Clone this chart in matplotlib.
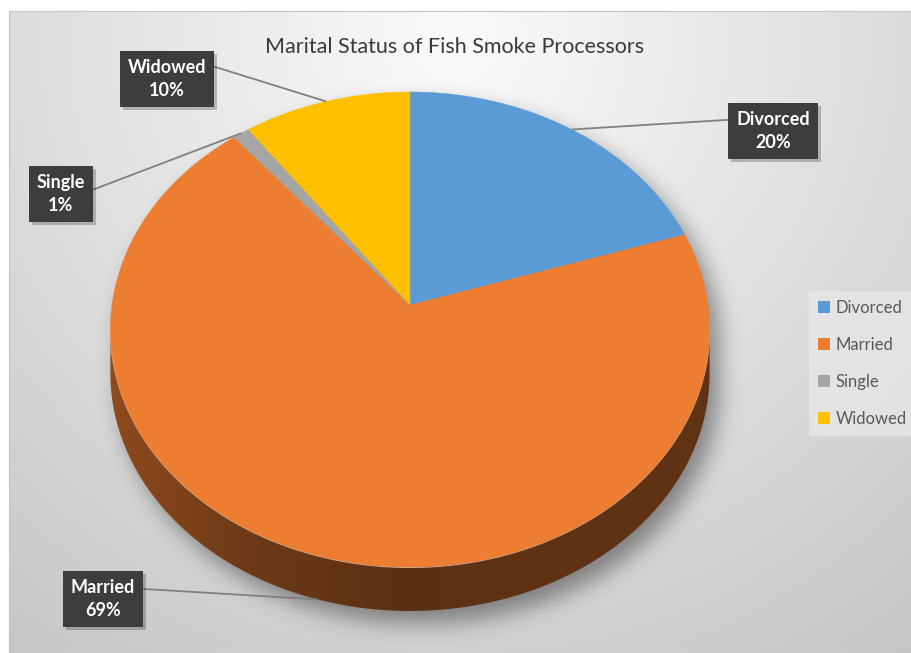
import numpy as np
import matplotlib
matplotlib.use("Agg")
import matplotlib.pyplot as plt
from matplotlib.patches import Polygon, Rectangle, Patch
from matplotlib.path import Path

# ---------------- data ----------------
categories = ["Divorced", "Married", "Single", "Widowed"]
values = [20, 69, 1, 10]
colors = ["#5B9BD5", "#ED7D31", "#A5A5A5", "#FFC000"]
title = "Marital Status of Fish Smoke Processors"

# ---------------- layout / style ----------------
W, H = 912, 653
CX, CY = 410, 305          # apex of the pie (pixels)
A, B, P = 298, 235, 0.103  # perspective parameters of the pie top
DEPTH = 44                 # thickness of the pie
START = 90                 # first slice starts at 12 o'clock, clockwise

label_boxes = {            # centre of each label box (pixels)
    "Divorced": (773, 131),
    "Married": (103, 599),
    "Single": (61, 194),
    "Widowed": (167, 79),
}
FONT = "Lato"

fig = plt.figure(figsize=(W / 100, H / 100), dpi=100)
fig.patch.set_facecolor("white")
ax = fig.add_axes([0, 0, 1, 1])
ax.set_xlim(0, W)
ax.set_ylim(H, 0)
ax.axis("off")

# ---------------- background gradient ----------------
x0, y0 = 9, 11
yy, xx = np.mgrid[y0:H, x0:W]
d = np.hypot(xx - 455, (yy - 40) * 1.0)
g = np.clip(251 - 0.07 * d, 190, 252) / 255.0
bg = np.dstack([g, g, g])
ax.imshow(bg, extent=(x0, W, H, y0), zorder=0, interpolation="bilinear")
ax.add_patch(Rectangle((x0, y0), W - x0, H - y0, fill=False, ec="#c4c4c4", lw=0.8, zorder=0.5))


def proj(theta, drop=0.0):
    t = np.radians(theta)
    u, v = np.cos(t), np.sin(t)
    den = 1 + P * v
    return CX + A * u / den, CY - B * v / den + drop


# front arc (visible side) between leftmost and rightmost rim points
th_all = np.linspace(150, 390, 2401)
xs_all, _ = proj(th_all)
front_lo, front_hi = th_all[np.argmin(xs_all)], th_all[np.argmax(xs_all)]

# ---------------- shadow ----------------
full = np.linspace(0, 360, 721)
rx, ry = proj(full)
front = np.linspace(front_lo, front_hi, 400)
fx, fy = proj(front)
fx2, fy2 = proj(front[::-1], DEPTH)
gy, gx = np.mgrid[0:H, 0:W]
pts = np.column_stack([gx.ravel(), gy.ravel()])
top_mask = Path(np.column_stack([rx, ry])).contains_points(pts).reshape(H, W)
side_poly = np.vstack([np.column_stack([fx, fy]), np.column_stack([fx2, fy2])])
side_mask = Path(side_poly).contains_points(pts).reshape(H, W)
mask = (top_mask | side_mask).astype(float)
sh = np.zeros_like(mask)
ox, oy = 9, 12
sh[oy:, ox:] = mask[:-oy, :-ox]
sig = 11
k = np.exp(-0.5 * (np.arange(-3 * sig, 3 * sig + 1) / sig) ** 2)
k /= k.sum()
sh = np.apply_along_axis(lambda r: np.convolve(r, k, mode="same"), 1, sh)
sh = np.apply_along_axis(lambda c: np.convolve(c, k, mode="same"), 0, sh)
shadow = np.zeros((H, W, 4))
shadow[..., 3] = sh * 0.4
ax.imshow(shadow, extent=(0, W, H, 0), zorder=1, interpolation="bilinear")

# ---------------- slices ----------------
total = float(sum(values))
angles = []
a = START
for v in values:
    span = 360.0 * v / total
    angles.append((a - span, a))
    a -= span

xgrad = np.linspace(0, W, W)
for (lo, hi), col in zip(angles, colors):
    for shift in (0, 360, -360):
        s_lo, s_hi = max(lo + shift, front_lo), min(hi + shift, front_hi)
        if s_hi > s_lo:
            th = np.linspace(s_lo, s_hi, 300)
            sx, sy = proj(th)
            bx, by = proj(th[::-1], DEPTH)
            poly = Polygon(np.vstack([np.column_stack([sx, sy]), np.column_stack([bx, by])]),
                           closed=True, fc="none", ec="none", zorder=2)
            ax.add_patch(poly)
            fac = np.interp(xgrad, [110, 250, 400, 710], [0.60, 0.46, 0.39, 0.41])
            rgb = np.array(matplotlib.colors.to_rgb(col))
            img = np.clip(fac[None, :, None] * rgb[None, None, :], 0, 1)
            img = np.repeat(img, 2, axis=0)
            im = ax.imshow(img, extent=(0, W, H, 0), zorder=2, interpolation="bilinear")
            im.set_clip_path(poly)
            ax.plot(sx, sy + 0.5, color="#f6c8a8", lw=0.8, zorder=2.5, alpha=0.8)
    th = np.linspace(lo, hi, 300)
    px, py = proj(th)
    verts = np.vstack([[CX, CY], np.column_stack([px, py])])
    ax.add_patch(Polygon(verts, closed=True, fc=col, ec=col, lw=0.3, zorder=3))

# ---------------- labels with leader lines ----------------
fig.canvas.draw()
inv = ax.transData.inverted()
for cat, v, (lo, hi) in zip(categories, values, angles):
    mid = (lo + hi) / 2.0
    mx, my = proj(mid)
    if np.sin(np.radians(mid)) < 0:
        my += DEPTH
    bxc, byc = label_boxes[cat]
    txt = f"{cat}\n{v}%"
    t = ax.text(bxc, byc, txt, ha="center", va="center", color="white",
                fontsize=13, fontweight="bold", family=FONT, linespacing=1.4,
                zorder=6,
                bbox=dict(boxstyle="square,pad=0.45", fc="#3d3d3d", ec="none"))
    fig.canvas.draw()
    bb = t.get_bbox_patch().get_window_extent()
    (l, b_), (r, t_) = inv.transform([[bb.x0, bb.y0], [bb.x1, bb.y1]])
    top, bot = min(b_, t_), max(b_, t_)
    ax.add_patch(Rectangle((l + 3, top + 3), r - l, bot - top, fc="black",
                           ec="none", alpha=0.22, zorder=5.5))
    ex = r if mx > r else (l if mx < l else bxc)
    frac = {"Married": -0.18, "Single": -0.08, "Widowed": -0.22, "Divorced": -0.2}[cat]
    ey = byc + frac * (bot - top)
    ax.plot([ex, mx], [ey, my], color="#808080", lw=1.3, zorder=5,
            solid_capstyle="butt")

# ---------------- title ----------------
fig.text(455 / W, 1 - 47 / H, title, ha="center", va="center", fontsize=15.5,
         color="#3a3a3a", family=FONT)

# ---------------- legend ----------------
handles = [Patch(facecolor=c, edgecolor="none") for c in colors]
leg = fig.legend(handles, categories, loc="upper left",
                 bbox_to_anchor=(809 / W, 1 - 291 / H), frameon=True,
                 labelspacing=1.25, handlelength=0.7,
                 handleheight=0.7, handletextpad=0.35, borderpad=0.55,
                 borderaxespad=0, prop={"family": FONT, "size": 12})
leg.get_frame().set_facecolor("#e7e7e7")
leg.get_frame().set_edgecolor("none")
leg.get_frame().set_boxstyle("square", pad=0)
for tx in leg.get_texts():
    tx.set_color("#595959")

fig.savefig("out.png", dpi=100, facecolor="white")
